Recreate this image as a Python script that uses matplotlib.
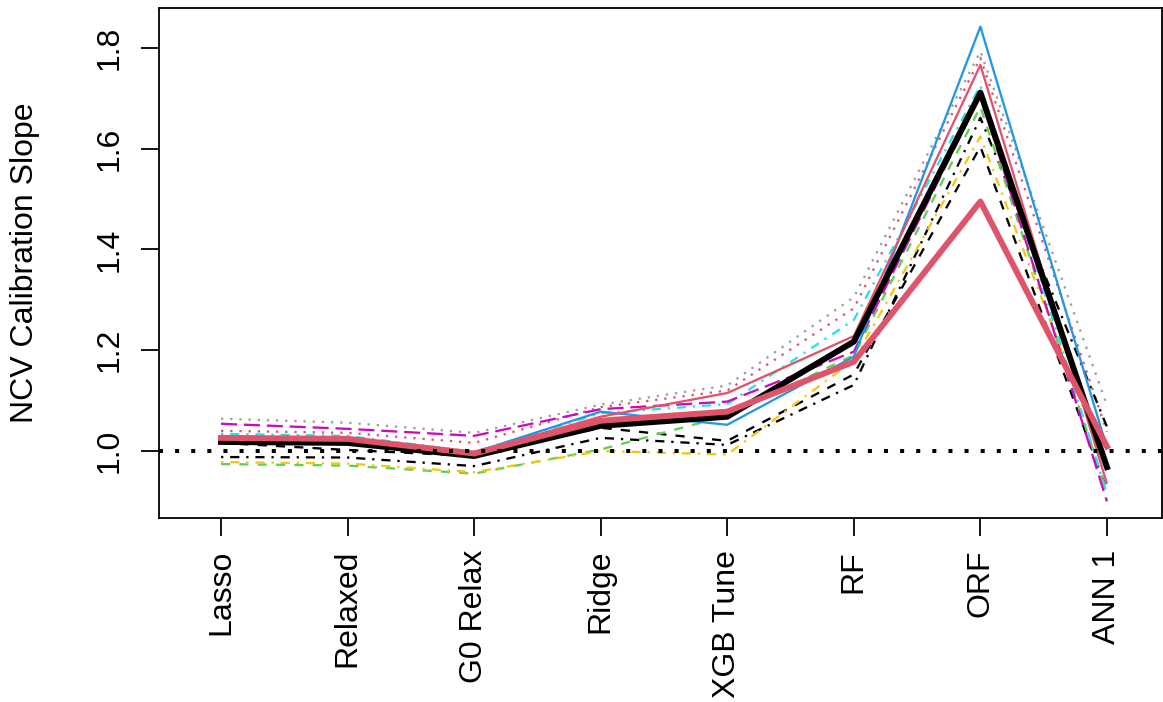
import matplotlib
matplotlib.use("Agg")
import matplotlib.pyplot as plt

methods = ["Lasso", "Relaxed", "G0 Relax", "Ridge", "XGB Tune", "RF", "ORF", "ANN 1"]

# thin series (colour, line type)
gray_dotted     = [1.064, 1.056, 1.036, 1.092, 1.130, 1.305, 1.793, 1.091]
red_dotted      = [1.040, 1.036, 1.016, 1.087, 1.120, 1.283, 1.780, 1.038]
magenta_long    = [1.054, 1.044, 1.030, 1.083, 1.098, 1.197, 1.705, 0.900]
cyan_dotdash    = [1.034, 1.030, 0.998, 1.075, 1.093, 1.260, 1.725, 0.915]
blue_solid      = [1.028, 1.025, 0.997, 1.078, 1.052, 1.187, 1.842, 1.006]
red_solid       = [1.027, 1.024, 0.997, 1.068, 1.115, 1.228, 1.766, 0.935]
green_dashed    = [0.974, 0.971, 0.955, 1.003, 1.070, 1.190, 1.683, 0.918]
yellow_dotdash  = [0.978, 0.975, 0.958, 1.000, 0.993, 1.180, 1.624, 0.962]
black_dashed    = [1.016, 1.002, 0.990, 1.046, 1.020, 1.152, 1.604, 0.922]
black_dotdash   = [0.988, 0.987, 0.970, 1.026, 1.012, 1.131, 1.661, 1.048]
# thick summary lines
black_thick     = [1.018, 1.016, 0.990, 1.050, 1.068, 1.217, 1.711, 0.968]
red_thick       = [1.026, 1.024, 0.995, 1.060, 1.078, 1.177, 1.495, 1.009]

yticks = [1.0, 1.2, 1.4, 1.6, 1.8]
ylabel = "NCV Calibration Slope"

C_RED = "#DF536B"; C_GREEN = "#61D04F"; C_BLUE = "#2297E6"; C_CYAN = "#28E2E5"
C_MAG = "#CD0BBC"; C_YEL = "#F5C710"; C_GRAY = "#9E9E9E"

DOT = (1, 3); DASH = (4, 4); DOTDASH = (1, 3, 4, 3); LONG = (7, 3)

plt.rcParams['font.family'] = ['Liberation Sans', 'DejaVu Sans']

fig = plt.figure(figsize=(11.63, 7.02), dpi=100)
ax = fig.add_axes([159/1163, 184/702, 1003/1163, 510/702])

x = list(range(1, len(methods) + 1))
thin = 1.65
series = [
    (gray_dotted, C_GRAY, DOT),
    (red_dotted, C_RED, DOT),
    (black_dashed, "black", DASH),
    (black_dotdash, "black", DOTDASH),
    (green_dashed, C_GREEN, DASH),
    (yellow_dotdash, C_YEL, DOTDASH),
    (cyan_dotdash, C_CYAN, DOTDASH),
    (magenta_long, C_MAG, LONG),
    (blue_solid, C_BLUE, None),
    (red_solid, C_RED, None),
]
for vals, col, dash in series:
    if dash is None:
        ax.plot(x, vals, color=col, lw=thin, solid_capstyle='butt')
    else:
        ax.plot(x, vals, color=col, lw=thin, dashes=dash, dash_capstyle='butt')

ax.plot(x, black_thick, color="black", lw=4.3, solid_joinstyle='round')
ax.plot(x, red_thick, color=C_RED, lw=4.3, solid_joinstyle='round')

ax.axhline(1.0, color="black", lw=2.9, dashes=(1, 3), dash_capstyle='butt')

ax.set_xlim(0.51, 8.435)
ax.set_ylim(0.867, 1.879)
ax.set_xticks(x)
ax.set_xticklabels(methods, rotation=90, fontsize=23, va='top', ha='center')
ax.set_yticks(yticks)
ax.set_yticklabels([f"{v:.1f}" for v in yticks], rotation=90, fontsize=23, va='center')
ax.tick_params(axis='both', length=13, width=1.3, color='black')
ax.tick_params(axis='x', pad=10)
ax.tick_params(axis='y', pad=12)
for s in ax.spines.values():
    s.set_linewidth(1.3)

ax.set_ylabel(ylabel, fontsize=23, va='center')
ax.yaxis.set_label_coords((25 - 159) / 1003, 0.5)

fig.savefig("out.png", dpi=100)
